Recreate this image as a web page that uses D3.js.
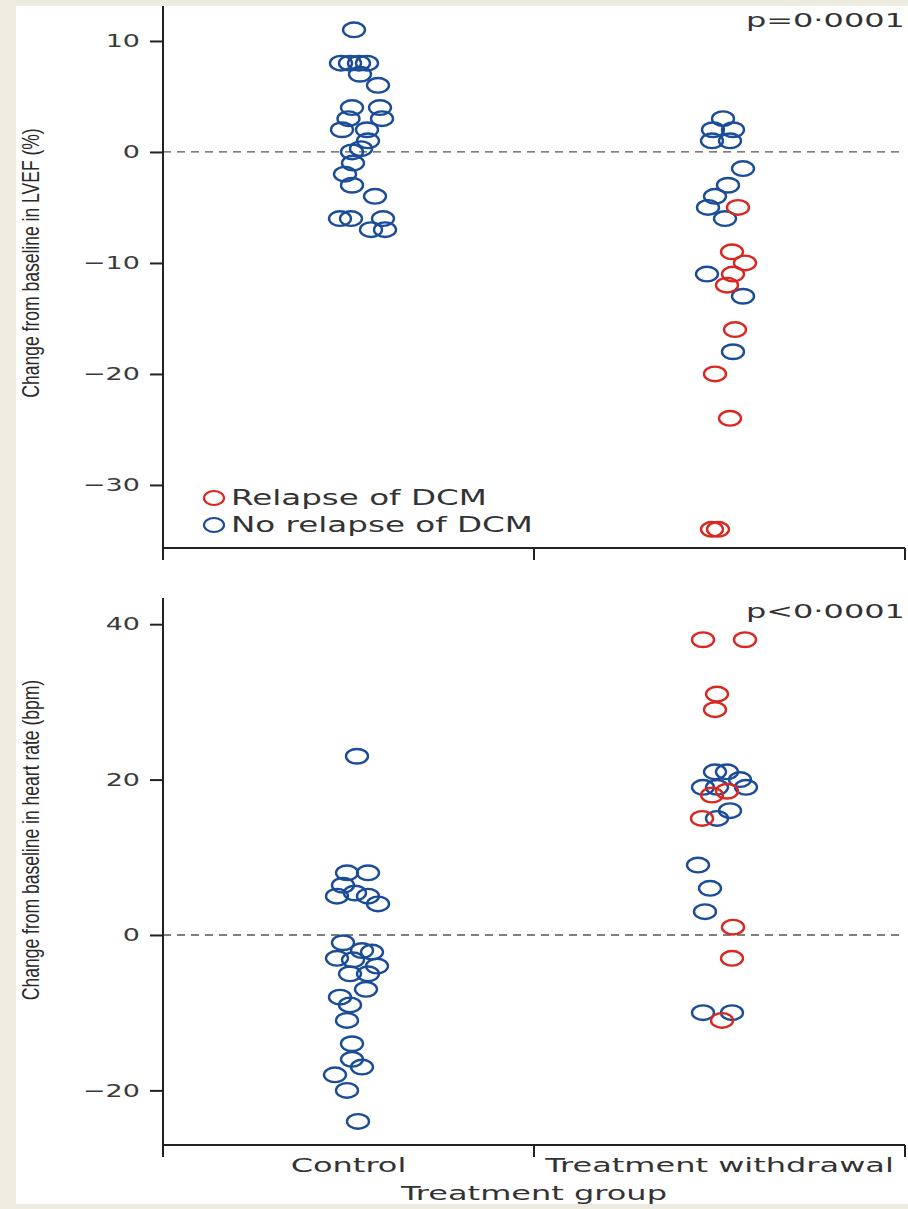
<!DOCTYPE html>
<html>
<head>
<meta charset="utf-8">
<script src="https://cdn.jsdelivr.net/npm/d3@7"></script>
<style>
  html, body { margin: 0; padding: 0; background: #eeebe1; }
  svg { display: block; }
</style>
</head>
<body>
<svg id="chart" width="908" height="1209"></svg>
<script>
// Treatment groups on the x axis
const categories = ["Control", "Treatment withdrawal"];

// Each point: [change from baseline, horizontal jitter (-1..1)]
// Change in LVEF (%)
const lvefControl = [
  [11, 0.22], [8, -0.3], [8, 0.06], [8, 0.42], [8, 0.74], [7, 0.46], [6, 1.18],
  [4, 0.14], [4, 1.26], [3, 0.0], [3, 1.34], [2, -0.26], [2, 0.74], [1, 0.78],
  [0, 0.14], [0.3, 0.5], [-1, 0.18], [-2, -0.14], [-3, 0.14], [-4, 1.06],
  [-6, -0.34], [-6, 0.1], [-6, 1.38], [-7, 0.9], [-7, 1.46]
];
const lvefWithdrawalNoRelapse = [
  [3, 0.14], [2, -0.26], [2, 0.54], [1, -0.3], [1, 0.42], [-1.5, 0.94],
  [-3, 0.34], [-4, -0.18], [-5, -0.46], [-6, 0.22], [-11, -0.5], [-13, 0.94], [-18, 0.54]
];
const lvefWithdrawalRelapse = [
  [-5, 0.74], [-9, 0.5], [-10, 1.02], [-11, 0.54], [-12, 0.3], [-16, 0.62],
  [-20, -0.18], [-24, 0.42], [-34, -0.3], [-34, -0.06]
];

// Change in heart rate (bpm)
const hrControl = [
  [23, 0.34], [8, -0.06], [8, 0.78], [6.4, -0.22], [5, -0.46], [5.4, 0.26], [5, 0.78],
  [4, 1.18], [-1, -0.22], [-2, 0.54], [-2.2, 0.94], [-3, -0.46], [-3.2, 0.18],
  [-4, 1.14], [-5, 0.06], [-5, 0.78], [-7, 0.7], [-8, -0.34], [-9, 0.06], [-11, -0.06],
  [-14, 0.14], [-16, 0.14], [-17, 0.54], [-18, -0.54], [-20, -0.06], [-24, 0.38]
];
const hrWithdrawalNoRelapse = [
  [21, -0.18], [21, 0.3], [19, -0.66], [19, -0.1], [20, 0.82], [19, 1.06],
  [16, 0.42], [15, -0.1], [9, -0.86], [6, -0.38], [3, -0.58], [-10, -0.66], [-10, 0.5]
];
const hrWithdrawalRelapse = [
  [38, -0.66], [38, 1.02], [31, -0.1], [29, -0.18], [18, -0.3], [18.5, 0.3],
  [15, -0.7], [1, 0.54], [-3, 0.5], [-11, 0.1]
];

// Tick values for each panel
const lvefTicks = [10, 0, -10, -20, -30];
const hrTicks = [40, 20, 0, -20];

const legendLabels = ["Relapse of DCM", "No relapse of DCM"];

const BLUE = "#1b4c98";
const RED = "#d8281f";
const WIDE_FONT = "'DejaVu Sans', sans-serif";
const STRETCH = 1.6;

const svg = d3.select("#chart");

// white page area
svg.append("rect")
  .attr("x", 16).attr("y", 6)
  .attr("width", 892).attr("height", 1198)
  .attr("fill", "#ffffff");

// scale glyph widths of a text element by factor k
function stretch(sel, k) {
  sel.each(function () {
    const w = this.getComputedTextLength();
    d3.select(this).attr("textLength", w * k).attr("lengthAdjust", "spacingAndGlyphs");
  });
}

const x = d3.scaleBand().domain(categories).range([163, 905]);
const jitter = d3.scaleLinear().domain([-1, 1]).range([-25, 25]);
const fmt = d => d < 0 ? "\u2212" + Math.abs(d) : String(d);

const panels = [
  {
    top: 6, bottom: 548, domain: [-35.68, 13.15], ticks: lvefTicks,
    title: "Change from baseline in LVEF (%)", titleY: 263,
    p: "p=0\u00b70001", pY: 27,
    control: lvefControl, noRelapse: lvefWithdrawalNoRelapse, relapse: lvefWithdrawalRelapse,
    legend: true, labels: false
  },
  {
    top: 598, bottom: 1145, domain: [-27.03, 43.37], ticks: hrTicks,
    title: "Change from baseline in heart rate (bpm)", titleY: 840,
    p: "p<0\u00b70001", pY: 618,
    control: hrControl, noRelapse: hrWithdrawalNoRelapse, relapse: hrWithdrawalRelapse,
    legend: false, labels: true
  }
];

panels.forEach(pn => {
  const g = svg.append("g");
  const y = d3.scaleLinear().domain(pn.domain).range([pn.bottom, pn.top]);
  const [x0, x1] = x.range();

  // zero reference line
  g.append("line")
    .attr("x1", x0).attr("x2", x1)
    .attr("y1", y(0)).attr("y2", y(0))
    .attr("stroke", "#555").attr("stroke-width", 1.3)
    .attr("stroke-dasharray", "8,6");

  // y axis
  const yAxis = g.append("g")
    .attr("transform", `translate(${x0},0)`)
    .call(d3.axisLeft(y).tickValues(pn.ticks).tickSize(13).tickPadding(10).tickFormat(fmt));
  yAxis.select(".domain").remove();
  yAxis.selectAll(".tick line").attr("stroke", "#222").attr("stroke-width", 2);
  yAxis.selectAll(".tick text")
    .attr("fill", "#3a3a3a")
    .style("font-family", WIDE_FONT)
    .style("font-size", "18px")
    .call(stretch, 1.5);

  g.append("line")
    .attr("x1", x0).attr("x2", x0)
    .attr("y1", pn.top).attr("y2", pn.bottom + 12)
    .attr("stroke", "#222").attr("stroke-width", 2);

  // x axis with group boundaries
  g.append("line")
    .attr("x1", x0).attr("x2", x1)
    .attr("y1", pn.bottom).attr("y2", pn.bottom)
    .attr("stroke", "#222").attr("stroke-width", 2);
  const bounds = [x(categories[1]), x1];
  g.selectAll(".bound").data(bounds).enter().append("line")
    .attr("x1", d => d).attr("x2", d => d)
    .attr("y1", pn.bottom).attr("y2", pn.bottom + 12)
    .attr("stroke", "#222").attr("stroke-width", 2);

  // y axis title, condensed
  g.append("text")
    .attr("transform", `translate(39,${pn.titleY}) rotate(-90)`)
    .attr("text-anchor", "middle")
    .attr("fill", "#2a2a2a")
    .style("font-family", "'Liberation Sans', sans-serif")
    .style("font-size", "24px")
    .text(pn.title)
    .call(stretch, 0.73);

  // p value
  g.append("text")
    .attr("x", 905).attr("y", pn.pY)
    .attr("text-anchor", "end")
    .attr("fill", "#333")
    .style("font-family", WIDE_FONT)
    .style("font-size", "20px")
    .text(pn.p)
    .call(stretch, STRETCH);

  // points
  const drawPoints = (data, cat, color) => {
    g.append("g").selectAll("ellipse").data(data).enter().append("ellipse")
      .attr("cx", d => x(cat) + x.bandwidth() / 2 + jitter(d[1]))
      .attr("cy", d => y(d[0]))
      .attr("rx", 11).attr("ry", 7.3)
      .attr("fill", "none")
      .attr("stroke", color)
      .attr("stroke-width", 2.4);
  };
  drawPoints(pn.control, categories[0], BLUE);
  drawPoints(pn.noRelapse, categories[1], BLUE);
  drawPoints(pn.relapse, categories[1], RED);

  if (pn.legend) {
    const lg = g.append("g");
    [RED, BLUE].forEach((c, i) => {
      lg.append("ellipse")
        .attr("cx", 214).attr("cy", 498 + i * 27)
        .attr("rx", 10).attr("ry", 7)
        .attr("fill", "none").attr("stroke", c).attr("stroke-width", 2.2);
      lg.append("text")
        .attr("x", 231).attr("y", 505 + i * 27)
        .attr("fill", "#333")
        .style("font-family", WIDE_FONT)
        .style("font-size", "21px")
        .text(legendLabels[i])
        .call(stretch, 1.55);
    });
  }

  if (pn.labels) {
    g.selectAll(".cat").data(categories).enter().append("text")
      .attr("x", d => x(d) + x.bandwidth() / 2)
      .attr("y", pn.bottom + 27)
      .attr("text-anchor", "middle")
      .attr("fill", "#333")
      .style("font-family", WIDE_FONT)
      .style("font-size", "20px")
      .text(d => d)
      .call(stretch, STRETCH);
    g.append("text")
      .attr("x", (x0 + x1) / 2).attr("y", pn.bottom + 55)
      .attr("text-anchor", "middle")
      .attr("fill", "#333")
      .style("font-family", WIDE_FONT)
      .style("font-size", "20px")
      .text("Treatment group")
      .call(stretch, STRETCH);
  }
});
</script>
</body>
</html>
